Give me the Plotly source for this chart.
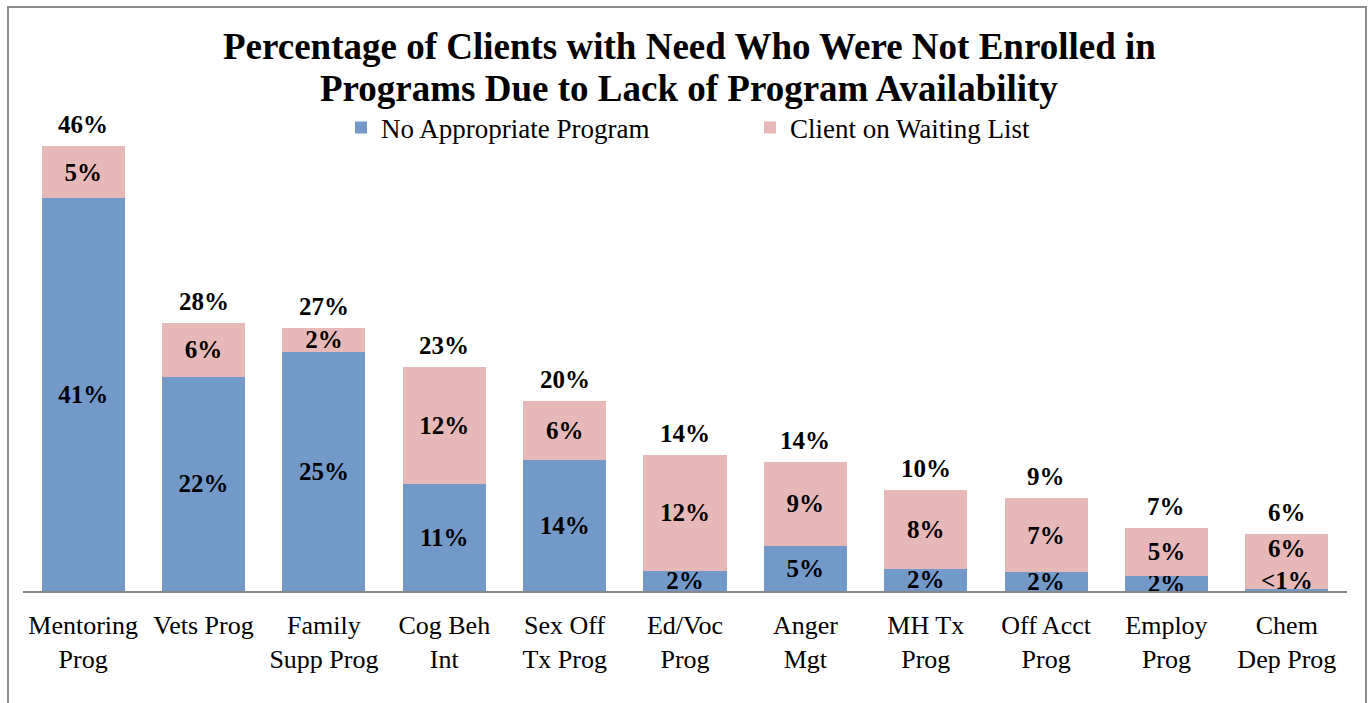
import plotly.graph_objects as go

categories = ["Mentoring<br>Prog", "Vets Prog", "Family<br>Supp Prog", "Cog Beh<br>Int",
              "Sex Off<br>Tx Prog", "Ed/Voc<br>Prog", "Anger<br>Mgt", "MH Tx<br>Prog",
              "Off Acct<br>Prog", "Employ<br>Prog", "Chem<br>Dep Prog"]
no_program = [40.7, 22.2, 24.8, 11.1, 13.6, 2.1, 4.7, 2.3, 2.0, 1.6, 0.2]
waiting = [5.4, 5.6, 2.5, 12.1, 6.1, 12.0, 8.7, 8.2, 7.6, 4.9, 5.7]
no_program_labels = ["41%", "22%", "25%", "11%", "14%", "2%", "5%", "2%", "2%", "2%", "<1%"]
waiting_labels = ["5%", "6%", "2%", "12%", "6%", "12%", "9%", "8%", "7%", "5%", "6%"]
total_labels = ["46%", "28%", "27%", "23%", "20%", "14%", "14%", "10%", "9%", "7%", "6%"]
title_lines = ["Percentage of Clients with Need Who Were Not Enrolled in",
               "Programs Due to Lack of Program Availability"]

FONT = "Liberation Serif"
BLUE = "#7399C9"
PINK = "#E6B9B8"
LBL = dict(family=FONT, size=25, color="black", weight="bold")

# last category in-bar labels are drawn as annotations (blue bar too thin for inside text)
blue_text = no_program_labels[:-1] + [""]
pink_text = waiting_labels[:-1] + [""]

fig = go.Figure()
fig.add_trace(go.Bar(
    x=categories, y=no_program, name="No Appropriate Program",
    marker=dict(color=BLUE, line=dict(width=0)),
    text=blue_text, textposition="inside", insidetextanchor="middle",
    constraintext="none", textangle=0, textfont=LBL, hoverinfo="skip",
))
fig.add_trace(go.Bar(
    x=categories, y=waiting, name="Client on Waiting List",
    marker=dict(color=PINK, line=dict(width=0)),
    text=pink_text, textposition="inside", insidetextanchor="middle",
    constraintext="none", textangle=0, textfont=LBL, hoverinfo="skip",
))

L, R, T, B = 23, 25, 110, 112
W, H = 1372, 703
pw, ph = W - L - R, H - T - B

annotations = []
for c, a, b, t in zip(categories, no_program, waiting, total_labels):
    annotations.append(dict(x=c, y=a + b, text=t, showarrow=False, yanchor="bottom",
                            yshift=6, font=LBL))
last = categories[-1]
annotations.append(dict(x=last, y=no_program[-1], text=no_program_labels[-1], showarrow=False,
                        yanchor="bottom", yshift=-7, font=LBL))
annotations.append(dict(x=last, y=no_program[-1] + waiting[-1], text=waiting_labels[-1], showarrow=False,
                        yanchor="top", yshift=1, font=LBL))
for line, yc in zip(title_lines, [47, 88]):
    annotations.append(dict(xref="paper", yref="paper", x=(689 - L) / pw, y=(591 - yc) / ph,
                            xanchor="center", yanchor="middle", showarrow=False,
                            text="<b>" + line + "</b>",
                            font=dict(family=FONT, size=37, color="black")))

fig.update_layout(
    width=W, height=H,
    margin=dict(l=L, r=R, t=T, b=B),
    paper_bgcolor="white", plot_bgcolor="white",
    barmode="stack", bargap=0.31,
    legend=dict(orientation="h", traceorder="normal", x=(355 - 14 - L) / pw, xanchor="left",
                y=(591 - 128) / ph, yanchor="middle",
                font=dict(family=FONT, size=27, color="black"), entrywidth=364, entrywidthmode="pixels",
                bgcolor="rgba(0,0,0,0)"),
    font=dict(family=FONT, color="black"),
    xaxis=dict(showline=True, linecolor="#868686", linewidth=2, ticks="", showgrid=False,
               ticklabelstandoff=10,
               tickfont=dict(family=FONT, size=26, color="black"), fixedrange=True),
    yaxis=dict(visible=False, range=[0, ph / 9.65], showgrid=False, fixedrange=True),
    annotations=annotations,
    shapes=[dict(type="rect", xref="paper", yref="paper",
                 x0=(8 - L) / pw, x1=(1366 - L) / pw, y0=(591 - 730) / ph, y1=(591 - 7) / ph,
                 line=dict(color="#8c8c8c", width=2), fillcolor="rgba(0,0,0,0)", layer="below")],
    showlegend=True,
)

fig.write_html("out.html", config={"displayModeBar": False},
               post_script="document.body.style.margin='0';document.body.style.overflow='hidden';")
